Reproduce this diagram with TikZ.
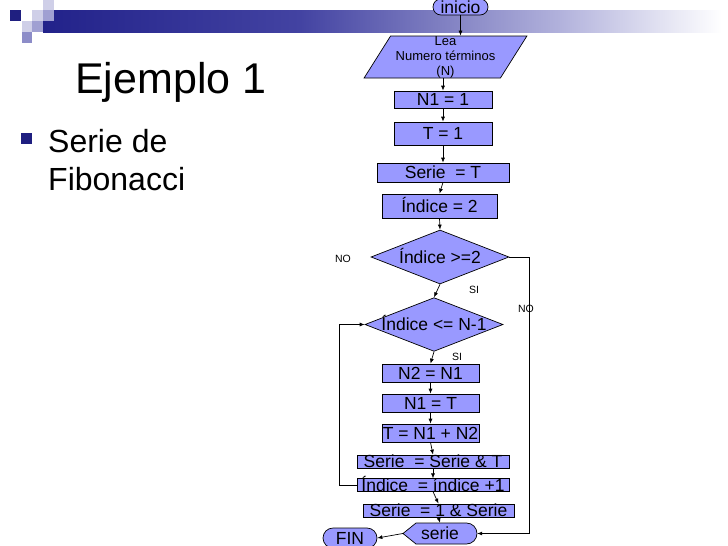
\documentclass[tikz,border=0pt]{standalone}
\usepackage{fontspec}
\setmainfont{Liberation Sans}
\usetikzlibrary{shapes.geometric,arrows.meta}
\definecolor{lav}{HTML}{9999FF}
\definecolor{navy}{HTML}{1F1F80}
\definecolor{barA}{HTML}{22228A}
\definecolor{barB}{HTML}{4343A2}
\definecolor{barC}{HTML}{B2B2DC}
\definecolor{sqL}{HTML}{CFCFE8}
\definecolor{sqM}{HTML}{A0A0D2}
\definecolor{sqD}{HTML}{8C8CC8}
\begin{document}
\begin{tikzpicture}[x=1pt,y=-1pt,
  every node/.style={inner sep=0pt},
  flow/.style={draw=black, fill=lav, line width=0.7pt,
    font=\fontsize{17.5}{18}\selectfont, text height=12.5pt, text depth=0pt},
  arr/.style={draw=black, line width=0.7pt, -{Latex[length=5pt,width=4pt]}},
  lbl/.style={font=\fontsize{10.5}{12}\selectfont},
  bigtxt/.style={font=\fontsize{32}{38}\selectfont, anchor=base west}
]
\fill[white] (0,0) rectangle (728,546);
\useasboundingbox (0,0) rectangle (728,546);

% header decoration
\shade[left color=barA, right color=barB] (43,10) rectangle (300.5,32);
\shade[left color=barB, right color=barC] (300,10) rectangle (560.5,32);
\shade[left color=barC, right color=white] (560,10) rectangle (722,32);
\fill[navy] (10,10) rectangle (21,21);
\fill[sqL] (43,0) rectangle (54,10);
\fill[sqL] (32,10) rectangle (43,21);
\fill[sqM] (43,10) rectangle (54,21);
\fill[sqL] (22,21) rectangle (32,32);
\fill[sqM] (32,21) rectangle (43,32);
\fill[sqD] (22,32) rectangle (32,43);

% title and bullet
\node[anchor=base west, font=\fontsize{43}{50}\selectfont] (title) at (75,93) {Ejemplo 1};
\node[fill=navy, minimum size=11pt, anchor=north west] (bul) at (21,133) {};
\node[bigtxt] (ser1) at (48,152) {Serie de};
\node[bigtxt] (ser2) at (48,190) {Fibonacci};

% flowchart nodes
\node[flow, minimum width=55pt, minimum height=16pt, rounded corners=8pt] (inicio) at (460.5,7) {inicio};
\node[draw=black, fill=lav, line width=0.7pt, trapezium, trapezium left angle=60,
  trapezium right angle=120, trapezium stretches=true, minimum width=163pt,
  minimum height=42pt, align=center, font=\fontsize{13}{15}\selectfont]
  (lea) at (445.5,57) {Lea\\Numero términos\\(N)};
\node[flow, minimum width=98pt, minimum height=17pt] (n1) at (443,99.5) {N1 = 1};
\node[flow, minimum width=98pt, minimum height=23pt] (t1) at (443,133.5) {T = 1};
\node[flow, minimum width=132pt, minimum height=19pt] (serieT) at (443,172.5) {Serie \ = T};
\node[flow, minimum width=115pt, minimum height=24pt] (ind2) at (439.5,206) {Índice = 2};
\node[flow, diamond, shape aspect=2.55, minimum width=138pt, minimum height=54pt] (d1) at (440,257) {Índice >=2};
\node[flow, diamond, shape aspect=2.55, minimum width=138pt, minimum height=53pt] (d2) at (434,324.5) {Índice <= N-1};
\node[flow, minimum width=97pt, minimum height=18pt] (n2) at (430.5,373) {N2 = N1};
\node[flow, minimum width=97pt, minimum height=18pt] (n1t) at (430.5,403) {N1 = T};
\node[flow, minimum width=97pt, minimum height=18pt] (tsum) at (430.5,433) {T = N1 + N2};
\node[flow, minimum width=152pt, minimum height=13pt] (sst) at (433,461.5) {Serie \ = Serie \& T};
\node[flow, minimum width=152pt, minimum height=12pt] (ind1) at (433,485) {Índice \ = índice +1};
\node[flow, minimum width=151pt, minimum height=13pt] (s1s) at (438.5,510.5) {Serie \ = 1 \& Serie};
\draw[fill=lav, line width=0.7pt] (403,533.5) -- (416,523) -- (466.5,523)
  arc[start angle=90, end angle=-90, radius=10.5pt] -- (416,544) -- cycle;
\node[font=\fontsize{17.5}{18}\selectfont, text height=12.5pt, text depth=0pt,
  minimum width=74pt, minimum height=21pt] (serie) at (440,533.5) {serie};
\node[flow, minimum width=54pt, minimum height=20pt, rounded corners=10pt] (fin) at (350,538) {FIN};

% labels
\node[lbl] (no1) at (343,259) {NO};
\node[lbl] (si1) at (474,290) {SI};
\node[lbl] (si2) at (457,357) {SI};
\node[lbl] (no2) at (526,309) {NO};

% connectors
\coordinate (rc) at (529,257);
\coordinate (lc) at (339,485);
\draw[arr] (inicio.south) -- (inicio.south |- lea.north);
\draw[arr] (lea.south -| n1.north) -- (n1.north);
\draw[arr] (n1.south) -- (t1.north);
\draw[arr] (t1.south) -- (serieT.north);
\draw[arr] (serieT.south) -- (ind2.north);
\draw[arr] (ind2.south) -- (d1.north);
\draw[arr] (d1.south) -- (d2.north);
\draw[arr] (d2.south) -- (n2.north);
\draw[arr] (n2.south) -- (n1t.north);
\draw[arr] (n1t.south) -- (tsum.north);
\draw[arr] (tsum.south) -- (sst.north);
\draw[arr] (sst.south) -- (ind1.north);
\draw[arr] (ind1.south) -- (s1s.north);
\draw[arr] (s1s.south) -- (serie.north);
\draw[arr] (d1.east) -- (rc) |- (serie.east);
\draw[arr] (ind1.west) -- (lc) |- (d2.west);
\draw[arr] (serie.west) -- (fin.east);
\end{tikzpicture}
\end{document}
